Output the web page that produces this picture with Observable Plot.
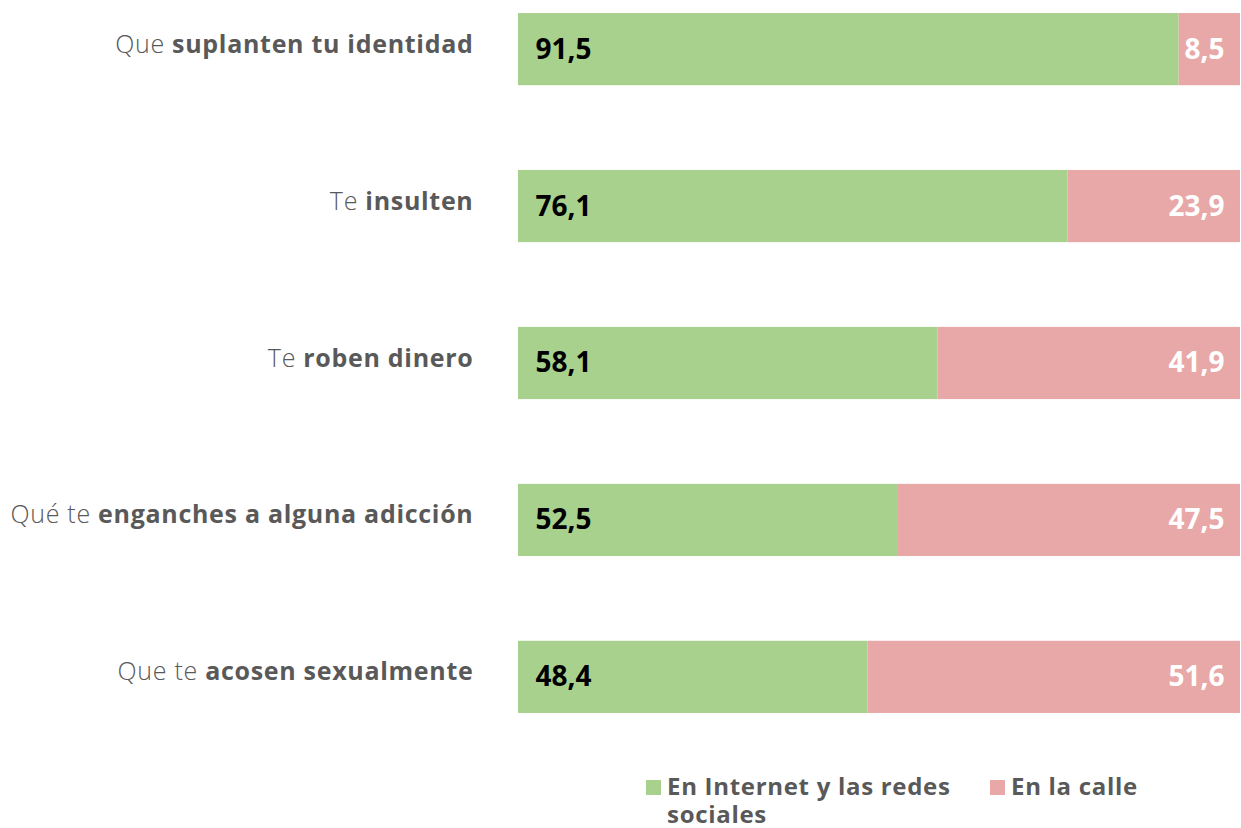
<!DOCTYPE html>
<html>
<head>
<meta charset="utf-8">
<script src="https://cdn.jsdelivr.net/npm/d3@7"></script>
<script src="https://cdn.jsdelivr.net/npm/@observablehq/plot@0.6"></script>
<style>
  html, body { margin: 0; padding: 0; background: #fff; }
  #wrap { position: relative; width: 1241px; height: 828px; font-family: "Open Sans", Lato, sans-serif; }
  #legend { position: absolute; top: 772px; left: 646px; color: #595959; font-weight: 700; font-size: 24px; line-height: 28px; letter-spacing: 0.7px; }
  .item { position: absolute; top: 0; white-space: nowrap; }
  .sw { position: absolute; top: 8px; width: 15px; height: 15px; }
</style>
</head>
<body>
<div id="wrap">
  <div id="chart"></div>
  <div id="legend"></div>
</div>
<script>
const labelRegular = ["Que", "Te", "Te", "Qué te", "Que te"];
const labelBold = ["suplanten tu identidad", "insulten", "roben dinero", "enganches a alguna adicción", "acosen sexualmente"];
const internet = [91.5, 76.1, 58.1, 52.5, 48.4];
const calle = [8.5, 23.9, 41.9, 47.5, 51.6];
const seriesNames = ["En Internet y las redes sociales", "En la calle"];
const seriesColors = ["#a9d18e", "#e9a8a8"];

const cats = labelBold.map((b, i) => labelRegular[i] + " " + b);
const rows = [];
cats.forEach((c, i) => {
  rows.push({cat: c, serie: seriesNames[0], value: internet[i]});
  rows.push({cat: c, serie: seriesNames[1], value: calle[i]});
});
const fmt = v => v.toFixed(1).replace(".", ",");
const inet = cats.map((c, i) => ({cat: c, value: internet[i]}));
const street = cats.map((c, i) => ({cat: c, value: calle[i]}));

const chart = Plot.plot({
  width: 1241,
  height: 726,
  marginLeft: 518,
  marginRight: 1,
  marginTop: 0,
  marginBottom: 0,
  style: {fontFamily: "'Open Sans', Lato, sans-serif", background: "#fff"},
  x: {domain: [0, 100], axis: null},
  y: {domain: cats, paddingInner: 0.54, paddingOuter: 0.083, round: false, axis: null},
  color: {domain: seriesNames, range: seriesColors},
  marks: [
    Plot.barX(rows, Plot.stackX({y: "cat", x: "value", fill: "serie", order: seriesNames})),
    Plot.text(inet, {x: 0, y: "cat", text: d => fmt(d.value), textAnchor: "start", dx: 17, fill: "#000", fontWeight: 700, fontSize: 28}),
    Plot.text(street, {x: 100, y: "cat", text: d => fmt(d.value), textAnchor: "end", dx: -16, fill: "#fff", fontWeight: 700, fontSize: 28}),
    Plot.text(cats, {x: 0, y: d => d, text: d => d, textAnchor: "end", dx: -45, dy: -5, fill: "#595959", fontSize: 25})
  ]
});
document.getElementById("chart").appendChild(chart);

d3.select(chart).selectAll("text").each(function() {
  const el = d3.select(this);
  const i = cats.indexOf(this.textContent);
  if (i < 0) return;
  el.text(null).attr("letter-spacing", "0.7px");
  el.append("tspan").attr("font-weight", 300).text(labelRegular[i] + " ");
  el.append("tspan").attr("font-weight", 700).text(labelBold[i]);
});

const legend = document.getElementById("legend");
legend.innerHTML = `
  <div class="item" style="left:0"><span class="sw" style="left:0;background:${seriesColors[0]}"></span><span style="position:absolute;left:21px;white-space:normal;width:300px">${seriesNames[0]}</span></div>
  <div class="item" style="left:344px"><span class="sw" style="left:0;background:${seriesColors[1]}"></span><span style="position:absolute;left:21px">${seriesNames[1]}</span></div>`;
</script>
</body>
</html>
